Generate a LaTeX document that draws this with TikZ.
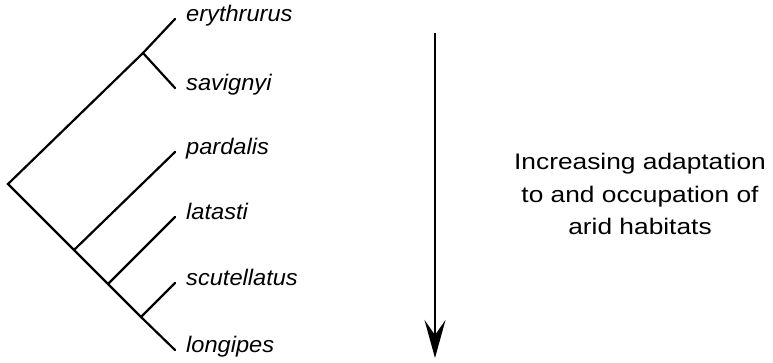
\documentclass[tikz,border=0pt]{standalone}
\usepackage{fontspec}
\setmainfont{Liberation Sans}
\newfontfamily\taxonfont[FakeStretch=1.05]{Liberation Sans}
\newfontfamily\notefont[FakeStretch=1.17]{Liberation Sans}
\usetikzlibrary{positioning, arrows.meta}

\begin{document}
\begin{tikzpicture}[
    x=1pt, y=-1pt,
    branch/.style={
        line width=2.2pt,
        line cap=round,
        line join=miter
    },
    species/.style={
        anchor=mid west,
        inner sep=0pt,
        font=\taxonfont\itshape\fontsize{22.5}{24}\selectfont
    },
    note/.style={
        align=center,
        font=\notefont\fontsize{22.5}{32.5}\selectfont
    },
    arrow/.style={
        -{Stealth[length=38pt, width=21pt, inset=15pt]},
        line width=2.8pt
    }
]
\useasboundingbox (0,0) rectangle (773,363);

% Branch points
\coordinate (root) at (8,184);
\coordinate (jes)  at (143,53);
\coordinate (jp)   at (74,250);
\coordinate (jl)   at (108,284);
\coordinate (jsl)  at (141,317);

% Tips
\coordinate (tery) at (175,19);
\coordinate (tsav) at (175,88);
\coordinate (tpar) at (175,152);
\coordinate (tlat) at (175,217);
\coordinate (tscu) at (175,283);
\coordinate (tlon) at (175,350);

% Species names
\node (ery) at (186,19)  [species] {erythrurus};
\node (sav) at (186,88)  [species] {savignyi};
\node (par) at (186,152) [species] {pardalis};
\node (lat) at (186,217) [species] {latasti};
\node (scu) at (186,283) [species] {scutellatus};
\node (lon) at (186,350) [species] {longipes};

% Tree
\draw [branch] (tery) -- (jes) -- (root) -- (jp) -- (jl) -- (jsl) -- (tlon);
\draw [branch] (jes) -- (tsav);
\draw [branch] (jp) -- (tpar);
\draw [branch] (jl) -- (tlat);
\draw [branch] (jsl) -- (tscu);

% Trend arrow and its text
\coordinate (arrtop) at (435,33);
\coordinate (arrbot) at (435,358);
\draw [arrow] (arrtop) -- (arrbot);
\node (trend) at (640,194) [note] {Increasing adaptation\\to and occupation of\\arid habitats};

\end{tikzpicture}
\end{document}
